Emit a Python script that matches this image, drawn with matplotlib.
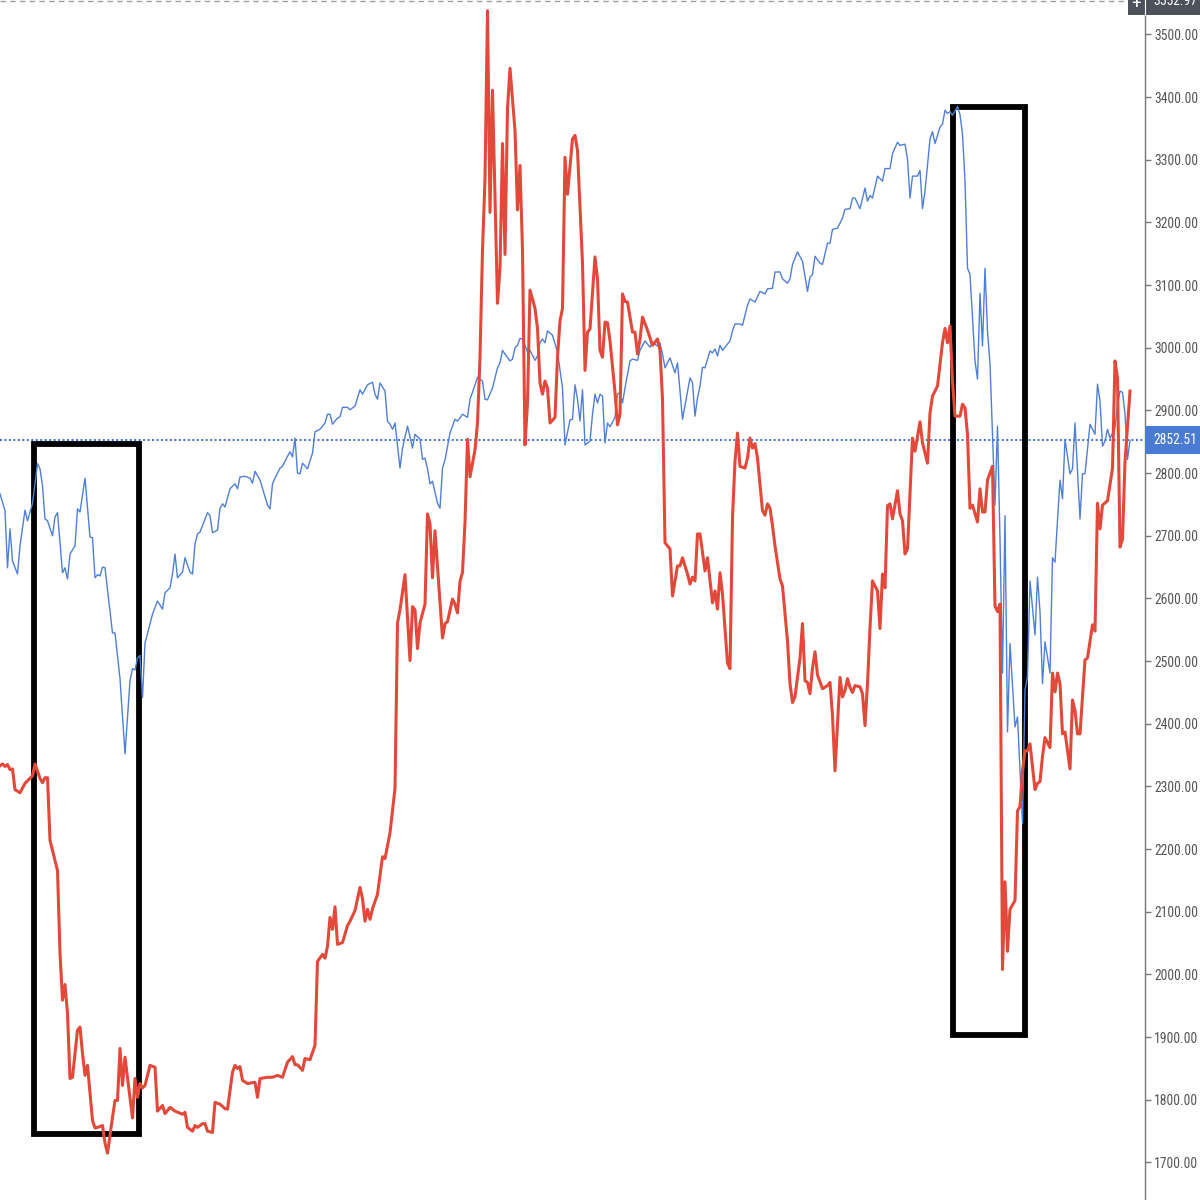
# S&P 500 (blue) vs overlay series (red), daily bars, TradingView style
import matplotlib
matplotlib.use("Agg")
import matplotlib.pyplot as plt
import matplotlib.transforms as mtransforms
from matplotlib import font_manager
from matplotlib.patches import Rectangle

# bar index -> value
blue_t = [0, 2, 3, 4, 5, 7, 8, 10, 11, 13, 15, 16, 17, 18, 19, 21, 22, 23, 25, 26, 27, 28, 30, 31, 32, 34, 36, 37, 38, 39,
          40, 41, 42, 45, 46, 48, 50, 52, 53, 54, 55, 56, 57, 58, 59, 61, 63, 65, 66, 68, 69, 70, 71, 73, 74, 76, 77, 78, 79, 80,
          83, 84, 85, 87, 88, 89, 90, 92, 94, 95, 96, 98, 100, 101, 102, 104, 107, 108, 109, 110, 112, 113, 115, 116, 117, 118, 119, 120, 121, 123,
          125, 126, 128, 130, 131, 132, 133, 135, 136, 137, 139, 140, 142, 144, 145, 147, 149, 150, 151, 152, 154, 155, 156, 157, 158, 160, 161, 163, 164, 165,
          166, 168, 169, 170, 171, 172, 173, 175, 176, 177, 178, 180, 182, 183, 185, 187, 188, 189, 191, 193, 194, 195, 197, 199, 200, 201, 202, 204, 205, 206,
          207, 208, 209, 211, 212, 214, 215, 216, 217, 218, 219, 221, 223, 225, 226, 228, 229, 230, 231, 232, 233, 234, 236, 237, 238, 239, 240, 241, 242, 243,
          244, 246, 247, 248, 249, 250, 252, 253, 255, 256, 258, 260, 261, 263, 264, 265, 266, 268, 270, 271, 273, 276, 277, 278, 279, 280, 281, 282, 284, 285,
          286, 287, 288, 289, 292, 293, 294, 296, 297, 299, 300, 302, 304, 306, 307, 309, 310, 312, 313, 315, 316, 317, 319, 321, 323, 324, 325, 326, 328, 329,
          331, 332, 333, 335, 337, 338, 340, 341, 342, 344, 346, 347, 348, 349, 351, 353, 354, 356, 357, 359, 360, 362, 363, 364, 365, 367, 368, 369, 370, 372,
          373, 374, 376, 377, 378, 379, 380, 381, 383, 384, 385, 386, 387, 388, 390, 391, 392, 393, 394, 395, 396, 398, 399, 400, 401, 402, 403, 404, 406, 407,
          409, 410, 411, 412, 414, 415, 416, 417, 418, 420, 421, 422, 423, 424, 425, 426, 428, 429, 430, 432, 433, 434, 436, 438, 439, 440, 441, 442, 443, 444,
          446, 447, 448, 449, 450, 451, 452]
blue_v = [2767, 2740, 2649, 2711, 2660, 2639, 2684, 2741, 2724, 2752, 2815, 2807, 2780, 2727, 2724, 2700, 2730, 2737, 2641, 2649, 2631, 2671, 2684, 2743, 2738, 2792, 2698, 2697, 2633, 2638,
          2636, 2650, 2649, 2545, 2545, 2472, 2352, 2469, 2488, 2486, 2505, 2509, 2442, 2529, 2544, 2575, 2596, 2583, 2609, 2617, 2639, 2671, 2633, 2642, 2665, 2642, 2639, 2687, 2703, 2706,
          2737, 2732, 2705, 2709, 2744, 2751, 2746, 2775, 2783, 2775, 2794, 2795, 2792, 2784, 2803, 2789, 2749, 2743, 2783, 2792, 2808, 2811, 2827, 2834, 2826, 2856, 2800, 2799, 2816, 2807,
          2832, 2866, 2870, 2880, 2894, 2894, 2878, 2888, 2890, 2905, 2905, 2901, 2907, 2933, 2926, 2941, 2945, 2926, 2918, 2944, 2931, 2883, 2878, 2870, 2880, 2808, 2840, 2875, 2858, 2840,
          2862, 2854, 2822, 2824, 2807, 2783, 2787, 2752, 2744, 2808, 2821, 2864, 2886, 2883, 2894, 2889, 2918, 2929, 2953, 2947, 2918, 2917, 2936, 2968, 2976, 2996, 2990, 2979, 2982, 3000,
          3004, 3015, 3014, 2993, 2996, 2980, 2987, 3008, 3014, 3008, 3027, 3020, 2993, 2936, 2845, 2885, 2886, 2941, 2918, 2883, 2933, 2845, 2851, 2894, 2926, 2912, 2926, 2923, 2848, 2880,
          2874, 2889, 2926, 2929, 2912, 2936, 2979, 2982, 2980, 2996, 3011, 3001, 3008, 3003, 3008, 2990, 2968, 2984, 2960, 2976, 2886, 2952, 2944, 2891, 2920, 2939, 2969, 2968, 2995, 2992,
          2998, 2987, 3004, 2996, 3011, 3027, 3038, 3038, 3036, 3068, 3078, 3073, 3090, 3086, 3094, 3095, 3121, 3121, 3110, 3103, 3110, 3133, 3153, 3138, 3090, 3113, 3117, 3146, 3135, 3133,
          3167, 3167, 3189, 3191, 3207, 3221, 3222, 3239, 3239, 3222, 3255, 3234, 3243, 3239, 3274, 3266, 3286, 3286, 3310, 3328, 3323, 3325, 3301, 3239, 3274, 3274, 3283, 3222, 3250, 3333,
          3345, 3326, 3352, 3357, 3379, 3374, 3377, 3371, 3385, 3372, 3341, 3266, 3127, 3117, 2979, 2950, 3087, 3003, 3127, 3027, 2974, 2749, 2875, 2695, 2481, 2732, 2387, 2528, 2395, 2411,
          2241, 2454, 2475, 2628, 2542, 2634, 2579, 2464, 2531, 2481, 2665, 2658, 2725, 2789, 2759, 2854, 2799, 2807, 2880, 2727, 2799, 2799, 2878, 2862, 2942, 2915, 2843, 2851, 2870, 2856,
          2872, 2910, 2931, 2929, 2894, 2822, 2852.51]

red_t = [0, 1, 2, 3, 4, 5, 6, 8, 10, 13, 14, 16, 17, 18, 19, 20, 22, 23, 24, 25, 26, 27, 28, 29, 31, 32, 33, 34, 35, 37,
         38, 39, 41, 42, 43, 45, 46, 47, 48, 49, 50, 53, 54, 55, 56, 57, 58, 60, 62, 63, 65, 66, 68, 70, 73, 74, 75, 77, 78, 79,
         81, 82, 83, 85, 86, 88, 90, 91, 93, 94, 95, 96, 97, 99, 102, 103, 104, 107, 109, 111, 113, 115, 117, 118, 119, 121, 122, 124, 126, 127,
         129, 130, 131, 132, 133, 134, 135, 137, 139, 140, 142, 144, 145, 146, 147, 148, 149, 151, 153, 154, 156, 158, 159, 160, 162, 164, 165, 166, 167, 168,
         170, 171, 172, 173, 174, 177, 178, 179, 181, 182, 183, 184, 185, 186, 187, 188, 190, 191, 192, 193, 194, 195, 196, 197, 199, 200, 201, 202, 203, 204,
         206, 207, 208, 209, 210, 211, 212, 214, 215, 216, 217, 218, 219, 220, 222, 223, 224, 225, 226, 227, 229, 230, 231, 233, 234, 235, 236, 238, 239, 240,
         241, 242, 243, 244, 246, 247, 248, 249, 250, 251, 253, 254, 255, 256, 257, 259, 261, 263, 264, 265, 266, 268, 269, 270, 271, 272, 273, 275, 276, 277,
         278, 279, 280, 282, 283, 285, 286, 287, 288, 289, 291, 292, 293, 294, 295, 296, 298, 299, 300, 301, 302, 303, 305, 306, 307, 308, 309, 310, 312, 313,
         315, 316, 317, 318, 320, 321, 322, 323, 324, 325, 326, 327, 329, 331, 332, 333, 334, 336, 337, 338, 339, 340, 341, 342, 344, 345, 346, 347, 348, 349,
         351, 352, 353, 354, 355, 356, 357, 359, 360, 361, 362, 363, 364, 365, 366, 368, 369, 371, 372, 373, 375, 377, 378, 379, 380, 381, 382, 384, 385, 386,
         387, 388, 389, 391, 392, 393, 394, 395, 397, 398, 399, 400, 401, 402, 403, 404, 406, 407, 408, 409, 410, 411, 412, 414, 415, 416, 417, 418, 420, 421,
         422, 423, 424, 425, 426, 428, 429, 430, 431, 432, 434, 435, 437, 438, 439, 440, 441, 443, 445, 446, 447, 448, 449, 450, 452]
red_v = [2333, 2336, 2332, 2335, 2327, 2328, 2295, 2290, 2305, 2317, 2336, 2313, 2306, 2314, 2314, 2214, 2182, 2166, 2034, 1959, 1984, 1938, 1834, 1836, 1911, 1916, 1874, 1839, 1855, 1767,
         1755, 1756, 1759, 1731, 1715, 1772, 1799, 1799, 1882, 1823, 1868, 1771, 1834, 1804, 1826, 1819, 1823, 1855, 1852, 1782, 1791, 1778, 1788, 1782, 1777, 1780, 1756, 1750, 1759, 1756,
         1762, 1762, 1750, 1748, 1796, 1793, 1786, 1785, 1844, 1855, 1850, 1853, 1831, 1826, 1828, 1804, 1834, 1836, 1836, 1839, 1836, 1860, 1869, 1856, 1856, 1847, 1866, 1864, 1887, 2021,
         2032, 2026, 2045, 2091, 2072, 2108, 2048, 2051, 2078, 2085, 2102, 2139, 2121, 2085, 2104, 2088, 2105, 2128, 2188, 2185, 2226, 2297, 2561, 2582, 2638, 2501, 2587, 2582, 2520, 2561,
         2591, 2735, 2719, 2633, 2708, 2537, 2560, 2563, 2599, 2591, 2577, 2627, 2642, 2721, 2854, 2794, 2837, 2880, 2985, 3156, 3269, 3538, 3216, 3411, 3071, 3127, 3326, 3149, 3382, 3446,
         3347, 3220, 3291, 3156, 2845, 2912, 3092, 3063, 3031, 2944, 2926, 2947, 2936, 2880, 2889, 2985, 3043, 3063, 3304, 3245, 3333, 3339, 3315, 3135, 2964, 3025, 3030, 3145, 3110, 2996,
         2985, 3041, 3040, 3011, 2929, 2877, 2894, 3086, 3074, 3073, 3025, 3025, 2990, 3014, 3049, 3028, 3004, 3014, 2996, 2918, 2689, 2679, 2604, 2628, 2652, 2652, 2665, 2639, 2623, 2634,
         2628, 2703, 2703, 2644, 2665, 2593, 2612, 2583, 2641, 2607, 2497, 2488, 2729, 2819, 2864, 2811, 2808, 2824, 2856, 2840, 2847, 2824, 2740, 2733, 2751, 2744, 2716, 2684, 2631, 2620,
         2532, 2464, 2434, 2443, 2505, 2560, 2469, 2466, 2448, 2489, 2515, 2478, 2456, 2461, 2466, 2413, 2325, 2474, 2443, 2453, 2472, 2458, 2450, 2461, 2459, 2448, 2397, 2464, 2553, 2628,
         2612, 2552, 2639, 2617, 2748, 2751, 2727, 2772, 2735, 2724, 2671, 2679, 2768, 2856, 2835, 2882, 2848, 2816, 2896, 2923, 2939, 3008, 3031, 3008, 3035, 2947, 2891, 2891, 2910, 2904,
         2862, 2744, 2749, 2722, 2775, 2738, 2738, 2789, 2811, 2588, 2579, 2591, 2008, 2148, 2037, 2104, 2118, 2261, 2268, 2325, 2357, 2357, 2368, 2295, 2305, 2308, 2348, 2378, 2362, 2481,
         2451, 2481, 2464, 2384, 2387, 2328, 2438, 2421, 2384, 2384, 2502, 2505, 2558, 2548, 2752, 2711, 2749, 2756, 2808, 2979, 2952, 2682, 2695, 2818, 2931]

last_price = 2852.51
cross_price = 3552.97
y_ticks = [1700, 1800, 1900, 2000, 2100, 2200, 2300, 2400, 2500, 2600, 2700, 2800, 2900, 3000, 3100, 3200, 3300, 3400, 3500]

# highlighted boxes: (first bar, last bar, low, high)
boxes = [(13.5, 55.6, 1746, 2847), (381.3, 409.9, 1904, 3385)]

names = {f.name for f in font_manager.fontManager.ttflist}
fam = [n for n in ["Roboto Condensed", "Liberation Sans Narrow", "Open Sans Condensed"] if n in names]
plt.rcParams["font.family"] = fam[:1] + ["DejaVu Sans"]
plt.rcParams["font.stretch"] = "condensed"
fs = 9.8

fig = plt.figure(figsize=(12, 12), dpi=100)
ax = fig.add_axes([0, 0, 1145 / 1200, 1])

ax.axhline(last_price, color="#3d6fd6", ls=(0, (1, 1.3)), lw=1.4, zorder=1)
ax.axhline(cross_price, color="#a0a0a0", ls=(0, (4, 3)), lw=1.0, xmax=1128 / 1145, zorder=1, clip_on=False)

for x0, x1, lo, hi in boxes:
    ax.add_patch(Rectangle((x0, lo), x1 - x0, hi - lo, fill=False, ec="black", lw=4.2, joinstyle="miter", zorder=2))

ax.plot(blue_t, blue_v, color="#4f7fd6", lw=1.0, zorder=3)
ax.plot(red_t, red_v, color="#e2493a", lw=2.2, zorder=4)

ax.set_xlim(0, 458)
ax.set_ylim(3555 - 1200 * 1.5957, 3555)

ax.xaxis.set_visible(False)
for s in ["left", "top", "bottom"]:
    ax.spines[s].set_visible(False)
ax.spines["right"].set_color("#777777")
ax.spines["right"].set_linewidth(1.0)
ax.yaxis.tick_right()
ax.set_yticks(y_ticks)
ax.set_yticklabels(["%.2f" % v for v in y_ticks])
ax.tick_params(axis="y", direction="out", length=4, width=1, color="#777777",
               labelcolor="#555555", labelsize=fs, pad=2.5)

tr = mtransforms.blended_transform_factory(ax.transAxes, ax.transData)
half = 14 * 1.5957
# last price tag
ax.add_patch(Rectangle((1.0, last_price - half), 0.05, 2 * half, transform=tr, fc="#4a7bd3",
                       ec="none", clip_on=False, zorder=5))
ax.text(1.0075, last_price, "%.2f" % last_price, transform=tr, color="white", fontsize=fs,
        va="center", ha="left", zorder=6, clip_on=False)
# crosshair price tag at the top
ax.add_patch(Rectangle((1128 / 1145, cross_price - half), 0.07, 2 * half, transform=tr, fc="#4d515c",
                       ec="none", clip_on=False, zorder=5))
ax.plot([1.0, 1.0], [cross_price - half, cross_price + half], transform=tr, color="white",
        lw=0.8, clip_on=False, zorder=6)
ax.text(0.9925, cross_price - 4, "+", transform=tr, color="white", fontsize=14,
        va="center", ha="center", zorder=6, clip_on=False)
ax.text(1.0075, cross_price, "%.2f" % cross_price, transform=tr, color="white", fontsize=fs,
        va="center", ha="left", zorder=6, clip_on=False)

fig.savefig("out.png", dpi=100)
